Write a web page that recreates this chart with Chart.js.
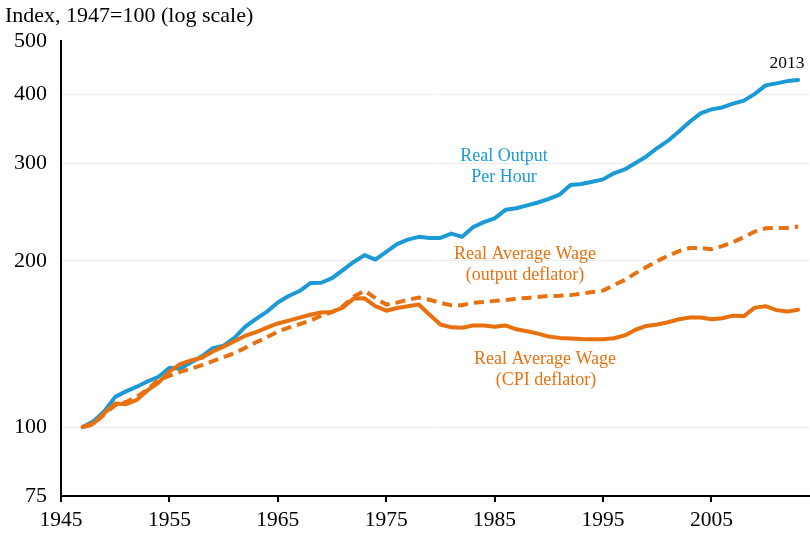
<!DOCTYPE html>
<html lang="en">
<head>
    <meta charset="UTF-8">
    <title>Real Output and Real Average Wage</title>
    <script src="https://cdn.jsdelivr.net/npm/chart.js"></script>
    <style>
        body {
            margin: 0;
            padding: 0;
            background: #fff;
        }
        #wrap {
            width: 810px;
            height: 533px;
            position: relative;
        }
    </style>
</head>
<body>
    <div id="wrap">
        <canvas id="wage-chart"></canvas>
    </div>
    <script>
        const years = [1947, 1948, 1949, 1950, 1951, 1952, 1953, 1954, 1955, 1956,
            1957, 1958, 1959, 1960, 1961, 1962, 1963, 1964, 1965, 1966,
            1967, 1968, 1969, 1970, 1971, 1972, 1973, 1974, 1975, 1976,
            1977, 1978, 1979, 1980, 1981, 1982, 1983, 1984, 1985, 1986,
            1987, 1988, 1989, 1990, 1991, 1992, 1993, 1994, 1995, 1996,
            1997, 1998, 1999, 2000, 2001, 2002, 2003, 2004, 2005, 2006,
            2007, 2008, 2009, 2010, 2011, 2012, 2013];

        // Real output per hour, 1947=100
        const outputPerHour = [100, 102.4, 106.8, 113.4, 116, 118.3, 121, 123.3, 128, 127.5,
            131, 134.3, 138.9, 140.4, 145, 152, 157, 161.8, 168, 172.7,
            176.3, 182.2, 182.5, 186, 192.4, 199, 204.8, 201, 207.5, 214.4,
            218.4, 221, 220, 220, 224, 221, 230, 235, 238.6, 247.3,
            249, 252, 255, 258.8, 263.6, 274.4, 275.5, 278, 280.8, 288,
            292.7, 300.7, 309, 320, 330, 342.8, 357, 369.8, 376, 379,
            385, 390, 401, 415.5, 419, 423, 425];

        // Real average wage, output deflator
        const wageOutputDeflator = [100, 101.2, 105.5, 109.5, 111, 113.5, 117, 121.8, 123.8, 125.8,
            127.5, 129.4, 131.6, 133.8, 136, 139.2, 142.4, 145.4, 148.8, 151.3,
            153.5, 155.8, 159, 161.4, 165.5, 172.2, 176.6, 171.2, 166.6, 168,
            170, 171.5, 170, 167.8, 166.2, 166.2, 167.8, 168.4, 169.2, 169.7,
            170.8, 171.3, 171.9, 172.7, 172.8, 173.3, 174.3, 175.5, 176.6, 180.7,
            184.5, 189.9, 194.8, 199.8, 204.2, 208.2, 210.9, 211, 209.8, 212.6,
            216.2, 220.8, 225.9, 229, 229.3, 229.3, 230.7];

        // Real average wage, CPI deflator
        const wageCpiDeflator = [100, 101.5, 106, 110.3, 110, 112, 116.6, 120.3, 126, 130,
            132, 133.5, 137, 139.8, 143, 146.3, 148.5, 151.3, 154, 155.8,
            157.8, 159.7, 161.2, 161.6, 164.5, 170.8, 171, 165.5, 162.4, 164.2,
            165.5, 166.6, 159.7, 153.3, 151.5, 151.3, 152.7, 152.7, 151.9, 152.7,
            150.3, 149.1, 147.6, 145.8, 145, 144.6, 144.3, 144.2, 144.2, 144.8,
            146.5, 150, 152.4, 153.3, 154.8, 156.7, 157.8, 157.8, 156.7, 157.4,
            159.1, 158.8, 164.5, 165.5, 162.8, 161.8, 163.1];

        const xTicks = [1945, 1955, 1965, 1975, 1985, 1995, 2005];
        const yTicks = [75, 100, 200, 300, 400, 500];

        const BLUE = '#1b9ad6';
        const ORANGE = '#e8710f';
        const SERIF = '"Liberation Serif", "Times New Roman", serif';

        const pairs = vals => years.map((yr, i) => ({ x: yr, y: vals[i] }));

        // free text drawn on top of the chart
        const notes = [
            { text: 'Index, 1947=100 (log scale)', x: 5, y: 16, color: '#000', size: 22, align: 'left' },
            { text: '2013', x: 787, y: 63, color: '#000', size: 17.5, align: 'center' },
            { text: 'Real Output', x: 504, y: 156, color: BLUE, size: 18, align: 'center' },
            { text: 'Per Hour', x: 504, y: 177, color: BLUE, size: 18, align: 'center' },
            { text: 'Real Average Wage', x: 525, y: 254, color: ORANGE, size: 18, align: 'center' },
            { text: '(output deflator)', x: 525, y: 275, color: ORANGE, size: 18, align: 'center' },
            { text: 'Real Average Wage', x: 545, y: 359, color: ORANGE, size: 18, align: 'center' },
            { text: '(CPI deflator)', x: 546, y: 380, color: ORANGE, size: 18, align: 'center' }
        ];

        const notesPlugin = {
            id: 'notes',
            afterDraw(chart) {
                const ctx = chart.ctx;
                ctx.save();
                ctx.textBaseline = 'middle';
                notes.forEach(n => {
                    ctx.font = n.size + 'px ' + SERIF;
                    ctx.fillStyle = n.color;
                    ctx.textAlign = n.align;
                    ctx.fillText(n.text, n.x, n.y);
                });
                ctx.restore();
            }
        };

        const ctx = document.getElementById('wage-chart').getContext('2d');
        const wageChart = new Chart(ctx, {
            type: 'line',
            data: {
                datasets: [{
                    label: 'Real Average Wage (CPI deflator)',
                    data: pairs(wageCpiDeflator),
                    borderColor: ORANGE,
                    borderWidth: 4,
                    borderJoinStyle: 'round',
                    borderCapStyle: 'round'
                }, {
                    label: 'Real Average Wage (output deflator)',
                    data: pairs(wageOutputDeflator),
                    borderColor: ORANGE,
                    borderWidth: 4,
                    borderDash: [10, 6],
                    borderCapStyle: 'butt'
                }, {
                    label: 'Real Output Per Hour',
                    data: pairs(outputPerHour),
                    borderColor: BLUE,
                    borderWidth: 4,
                    borderJoinStyle: 'round',
                    borderCapStyle: 'round'
                }]
            },
            options: {
                responsive: true,
                maintainAspectRatio: false,
                animation: false,
                elements: {
                    point: { radius: 0 },
                    line: { tension: 0 }
                },
                layout: {
                    padding: { top: 41, right: 1, left: 0, bottom: 0 }
                },
                plugins: {
                    legend: { display: false },
                    tooltip: { enabled: false }
                },
                scales: {
                    x: {
                        type: 'linear',
                        min: 1945,
                        max: 2014,
                        afterBuildTicks: s => { s.ticks = xTicks.map(v => ({ value: v })); },
                        afterFit: s => { s.height = 37; },
                        border: { display: true, color: '#000', width: 2 },
                        grid: {
                            drawOnChartArea: false,
                            drawTicks: true,
                            tickLength: 6,
                            color: '#000',
                            lineWidth: 2
                        },
                        ticks: {
                            color: '#000',
                            padding: 5,
                            maxRotation: 0,
                            font: { family: SERIF, size: 21.5 },
                            callback: v => String(v)
                        }
                    },
                    y: {
                        type: 'logarithmic',
                        min: 75,
                        max: 500,
                        afterBuildTicks: s => { s.ticks = yTicks.map(v => ({ value: v })); },
                        afterFit: s => { s.width = 61; },
                        border: { display: true, color: '#000', width: 2 },
                        grid: {
                            drawTicks: false,
                            color: c => (c.tick && c.tick.value === 500) ? 'rgba(0,0,0,0)' : '#ececec',
                            lineWidth: 1
                        },
                        ticks: {
                            color: '#000',
                            padding: 14,
                            font: { family: SERIF, size: 22 },
                            callback: v => String(v)
                        }
                    }
                }
            },
            plugins: [notesPlugin]
        });
    </script>
</body>
</html>
